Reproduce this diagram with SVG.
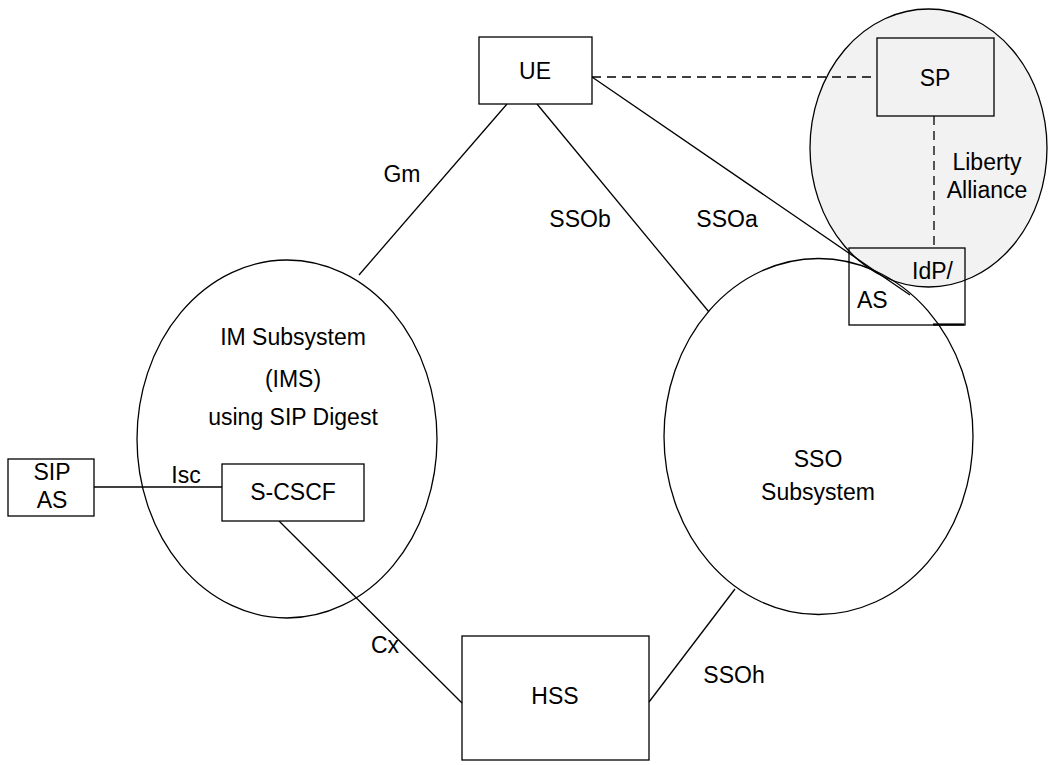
<svg xmlns="http://www.w3.org/2000/svg" width="1048" height="765" viewBox="0 0 1048 765">
<style>
.box{fill:none;stroke:#000;stroke-width:1.3}
.ell{fill:none;stroke:#000;stroke-width:1.3}
.ln{stroke:#000;stroke-width:1.3;fill:none}
.dash{stroke:#000;stroke-width:1.3;fill:none;stroke-dasharray:9,6}
text{font-family:"Liberation Sans",Arial,sans-serif;font-size:23px;fill:#000}
.c{text-anchor:middle}
</style>
<rect width="1048" height="765" fill="#fff"/>
<g id="liberty">
<ellipse cx="928.5" cy="148" rx="118.5" ry="139" fill="#f2f2f2" stroke="#000" stroke-width="1.3"/>
<text x="987" y="170" class="c">Liberty</text>
<text x="987" y="198" class="c">Alliance</text>
</g>
<g id="ims">
<ellipse cx="287" cy="439" rx="150" ry="179" class="ell"/>
<text x="293" y="345" class="c">IM Subsystem</text>
<text x="293" y="387" class="c">(IMS)</text>
<text x="293" y="425" class="c">using SIP Digest</text>
</g>
<g id="sso">
<ellipse cx="818.5" cy="436.5" rx="154.5" ry="178" class="ell"/>
<text x="818" y="467" class="c">SSO</text>
<text x="818" y="500" class="c">Subsystem</text>
</g>
<g id="connectors">
<line x1="507" y1="104" x2="359" y2="275" class="ln"/>
<line x1="537" y1="104" x2="709" y2="312" class="ln"/>
<line x1="592" y1="77" x2="910" y2="295" class="ln"/>
<line x1="592" y1="77" x2="877" y2="77" class="dash"/>
<line x1="934" y1="116" x2="934" y2="248" class="dash"/>
<line x1="94" y1="487" x2="222" y2="487" class="ln"/>
<line x1="279" y1="521" x2="462" y2="703" class="ln"/>
<line x1="649" y1="702" x2="735" y2="589" class="ln"/>
<text x="402" y="182" class="c">Gm</text>
<text x="580" y="227" class="c">SSOb</text>
<text x="727" y="227" class="c">SSOa</text>
<text x="186" y="483" class="c">Isc</text>
<text x="385" y="653" class="c">Cx</text>
<text x="734" y="683" class="c">SSOh</text>
</g>
<g id="ue">
<rect x="479" y="37" width="113" height="67" class="box" fill="#fff" style="fill:#fff"/>
<text x="535" y="79" class="c">UE</text>
</g>
<g id="sp">
<rect x="877" y="38" width="117" height="78" class="box"/>
<text x="935" y="86" class="c">SP</text>
</g>
<g id="idp-as">
<rect x="849" y="248" width="116" height="77" class="box"/>
<text x="953" y="279" text-anchor="end">IdP/</text>
<text x="857" y="308">AS</text>
<line x1="933" y1="324.5" x2="964" y2="324.5" stroke="#000" stroke-width="2.2"/>
</g>
<g id="sip-as">
<rect x="8" y="459" width="86" height="57" class="box"/>
<text x="52" y="480" class="c">SIP</text>
<text x="52" y="508" class="c">AS</text>
</g>
<g id="s-cscf">
<rect x="222" y="464" width="142" height="57" class="box" style="fill:#fff"/>
<text x="293" y="500" class="c">S-CSCF</text>
</g>
<g id="hss">
<rect x="462" y="636" width="187" height="124" class="box"/>
<text x="555" y="704" class="c">HSS</text>
</g>
</svg>
